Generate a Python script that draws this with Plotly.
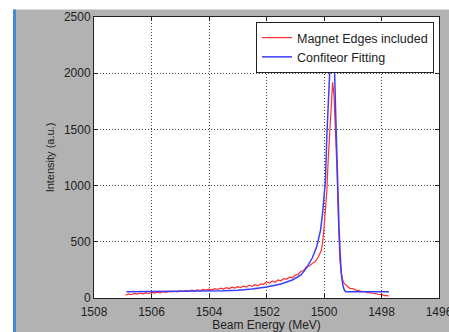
import plotly.graph_objects as go

# Red: "Magnet Edges included"
red_e = [1506.9, 1506.8, 1506.7, 1506.6, 1506.5, 1506.4, 1506.3, 1506.2, 1506.1, 1506.0,
         1505.9, 1505.8, 1505.7, 1505.6, 1505.5, 1505.4, 1505.3, 1505.2, 1505.1, 1505.0,
         1504.9, 1504.8, 1504.7, 1504.6, 1504.5, 1504.4, 1504.3, 1504.2, 1504.1, 1504.0,
         1503.9, 1503.8, 1503.7, 1503.6, 1503.5, 1503.4, 1503.3, 1503.2, 1503.1, 1503.0,
         1502.9, 1502.8, 1502.7, 1502.6, 1502.5, 1502.4, 1502.3, 1502.2, 1502.1, 1502.0,
         1501.9, 1501.8, 1501.7, 1501.6, 1501.5, 1501.4, 1501.3, 1501.2, 1501.1, 1501.0,
         1500.9, 1500.8, 1500.7, 1500.6, 1500.5, 1500.4, 1500.3, 1500.2, 1500.1, 1500.05,
         1500.0, 1499.95, 1499.9, 1499.85, 1499.8, 1499.75, 1499.7, 1499.65, 1499.6, 1499.55,
         1499.5, 1499.45, 1499.4, 1499.35, 1499.3, 1499.2, 1499.1, 1499.0, 1498.9, 1498.8,
         1498.7, 1498.6, 1498.5, 1498.4, 1498.3, 1498.2, 1498.1, 1498.0, 1497.9, 1497.8, 1497.75]
red_i = [26, 36, 29, 40, 34, 44, 37, 46, 40, 49,
         43, 52, 46, 56, 49, 58, 54, 60, 55, 63,
         58, 66, 60, 70, 63, 73, 67, 76, 70, 79,
         73, 83, 76, 88, 80, 92, 84, 97, 88, 101,
         93, 106, 98, 113, 104, 118, 110, 124, 122, 145,
         132, 152, 140, 160, 153, 172, 168, 185, 180, 205,
         210, 238, 245, 280, 285, 310, 325, 365, 420, 490,
         620, 800, 960, 1250, 1500, 1750, 1920, 1800, 1520, 1150,
         700, 350, 230, 160, 130, 112, 86, 84, 70, 68,
         57, 58, 47, 49, 40, 40, 31, 32, 22, 22, 16]

# Blue: "Confiteor Fitting"
blue_e = [1506.87, 1506.0, 1505.0, 1504.0, 1503.5, 1503.0, 1502.5, 1502.0, 1501.5, 1501.1,
          1500.8, 1500.6, 1500.4, 1500.25, 1500.12, 1500.05, 1500.0, 1499.95, 1499.9, 1499.85,
          1499.8, 1499.75, 1499.69, 1499.64, 1499.6, 1499.56, 1499.52, 1499.48, 1499.44, 1499.4,
          1499.35, 1499.3, 1499.25, 1499.2, 1499.0, 1498.5, 1498.0, 1497.74]
blue_i = [56, 57, 59, 62, 65, 70, 80, 98, 125, 160,
          205, 270, 360, 460, 604, 750, 870, 1050, 1450, 1750,
          2050, 2300, 2400, 2100, 1700, 1300, 1000, 650, 400, 220,
          120, 75, 58, 55, 55, 55, 55, 55]

x_ticks = [1508, 1506, 1504, 1502, 1500, 1498, 1496]
y_ticks = [0, 500, 1000, 1500, 2000, 2500]

W, H = 449, 332
ML, MR, MT, MB = 94, 10, 17, 34
PW, PH = W - ML - MR, H - MT - MB


def px(x):
    return (x - ML) / PW


def py(y):
    return (H - MB - y) / PH


fig = go.Figure()
fig.add_trace(go.Scatter(x=red_e, y=red_i, mode="lines", name="Magnet Edges included",
                         line=dict(color="rgb(255,45,45)", width=1.2)))
fig.add_trace(go.Scatter(x=blue_e, y=blue_i, mode="lines", name="Confiteor Fitting",
                         line=dict(color="rgb(60,60,255)", width=1.5)))

axis_common = dict(
    showline=True, linecolor="#222", linewidth=1, mirror="ticks",
    ticks="inside", ticklen=4, tickcolor="#222",
    showgrid=True, gridcolor="#444", griddash="1px,2px", gridwidth=1,
    zeroline=False, automargin=False, ticklabeloverflow="allow",
    tickfont=dict(family="Liberation Sans, Arial", size=12, color="#222"),
)

fig.update_xaxes(range=[1508, 1496], tickvals=x_ticks, ticktext=[str(v) for v in x_ticks],
                 ticklabelstandoff=3,
                 title=dict(text="Beam Energy (MeV)", standoff=8,
                            font=dict(family="Liberation Sans, Arial", size=12, color="#222")),
                 **axis_common)
fig.update_yaxes(range=[0, 2500], tickvals=y_ticks, ticktext=[str(v) for v in y_ticks],
                 title=dict(text="Intensity (a.u.)", standoff=7,
                            font=dict(family="Liberation Sans, Arial", size=11, color="#222")),
                 **axis_common)

shapes = [
    # white strip at top
    dict(type="rect", xref="paper", yref="paper", x0=px(0), x1=px(W), y0=py(9.5), y1=py(-5),
         fillcolor="white", line=dict(width=0), layer="above"),
    # white strip at left
    dict(type="rect", xref="paper", yref="paper", x0=px(-5), x1=px(13), y0=py(H + 5), y1=py(-5),
         fillcolor="white", line=dict(width=0), layer="above"),
    # blue bar at left
    dict(type="rect", xref="paper", yref="paper", x0=px(13), x1=px(16), y0=py(H + 5), y1=py(9.5),
         fillcolor="rgb(70,135,215)", line=dict(width=0), layer="above"),
]

fig.update_layout(
    width=W, height=H,
    margin=dict(l=ML, r=MR, t=MT, b=MB, pad=0),
    paper_bgcolor="rgb(178,178,178)",
    plot_bgcolor="white",
    showlegend=True,
    legend=dict(x=px(434), y=py(22), xanchor="right", yanchor="top",
                bgcolor="white", bordercolor="#222", borderwidth=1,
                font=dict(family="Liberation Sans, Arial", size=12.5, color="#222"),
                tracegroupgap=0, itemwidth=30),
    shapes=shapes,
)

fig.write_html(
    "out.html",
    config={"displayModeBar": False},
    post_script="document.body.style.margin='0';document.body.style.padding='0';"
                "document.body.style.overflow='hidden';"
                "document.documentElement.style.overflow='hidden';",
)
